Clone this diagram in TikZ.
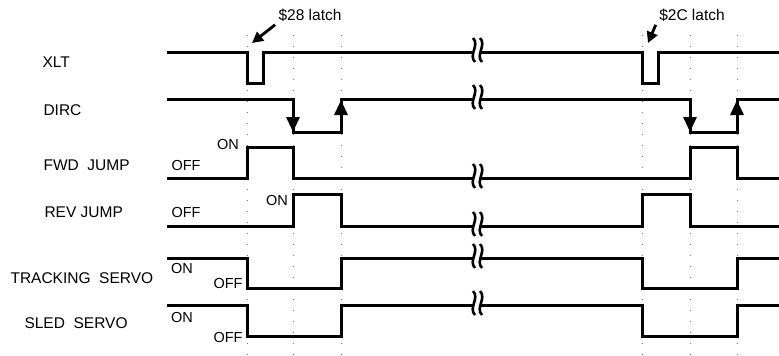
\documentclass[tikz,border=0pt]{standalone}
\usepackage{fontspec}
\setmainfont{Liberation Sans}
\usetikzlibrary{arrows.meta}
\begin{document}
\begin{tikzpicture}[x=1pt,y=-1pt,font=\fontsize{15.5}{17}\selectfont,
  sig/.style={line width=3pt,line join=miter},
  guide/.style={black!55,line width=1pt,dash pattern=on 1pt off 10pt},
  lvl/.style={font=\fontsize{14.5}{16}\selectfont,inner sep=0pt},
  tip/.style={-{Triangle[length=15pt,width=13pt]}},
  ptr/.style={line width=2.8pt,-{Triangle[length=11pt,width=11pt]}}]
\useasboundingbox(0,0)rectangle(779,356);
% guide lines
\foreach \x in {247,293,341,642,690,737}\draw[guide](\x,35)--(\x,356);
% waveforms: rest level, other level, four edges
\foreach \ya/\yb/\xa/\xb/\xc/\xd in {52/83/247/263/642/658,99/132/293/341/690/737,178/147/247/293/690/737,
  226/194/293/341/642/690,258/288/247/341/642/737,305/336/247/341/642/737}
  \draw[sig](167,\ya)-|(\xa,\yb)-|(\xb,\ya)-|(\xc,\yb)-|(\xd,\ya)--(779,\ya);
\foreach \x/\ya/\yb in {293/112/132,341/120/100,690/112/132,737/120/100}\draw[sig,tip](\x,\ya)--(\x,\yb);
% break marks
\foreach \y in {50,97,176,224,256,303}{
  \fill[white](473,\y-12)..controls(480,\y-5)and(468,\y+5)..(475,\y+12)--(482,\y+12)..controls(475,\y+5)and(487,\y-5)..(480,\y-12)--cycle;
  \draw[line width=2.6pt](473,\y-12)..controls(480,\y-5)and(468,\y+5)..(475,\y+12);
  \draw[line width=2.6pt](480,\y-12)..controls(487,\y-5)and(475,\y+5)..(482,\y+12);}
% signal names
\node[anchor=west](xlt)at(39,62){XLT};
\node[anchor=west](dirc)at(40,110){DIRC};
\node[anchor=west](fwd)at(40,165){FWD\ \ JUMP};
\node[anchor=west](rev)at(41,212){REV JUMP};
\node[anchor=west](trk)at(7,278){TRACKING\ \ SERVO};
\node[anchor=west](sled)at(21,323){SLED\ \ SERVO};
% levels
\node[lvl](fwdon)at(228,145){ON};\node[lvl](fwdoff)at(186,166){OFF};
\node[lvl](revon)at(277,201){ON};\node[lvl](revoff)at(186,213){OFF};
\node[lvl,anchor=west](trkon)at(171,269){ON};\node[lvl](trkoff)at(228,284){OFF};
\node[lvl,anchor=west](sledon)at(171,318){ON};\node[lvl](sledoff)at(228,338){OFF};
% latch pointers
\node(l28)at(310,15){\$28 latch};\coordinate(a28)at(252,43);
\node(l2c)at(692,15){\$2C latch};\coordinate(a2c)at(648,43);
\draw[ptr](l28.south west)--(a28);
\draw[ptr](l2c.south west)--(a2c);
\end{tikzpicture}
\end{document}
